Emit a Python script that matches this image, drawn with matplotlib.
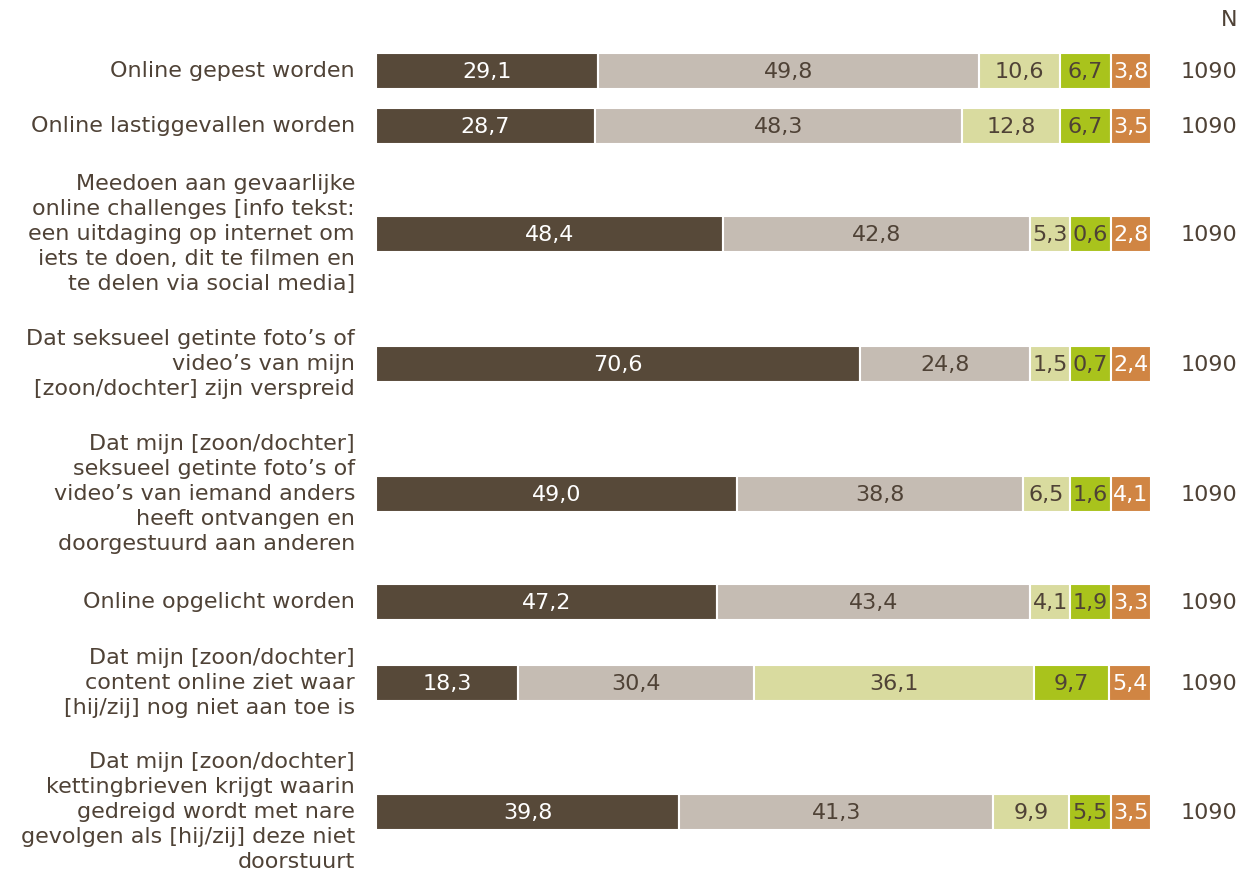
import matplotlib
matplotlib.use("Agg")
import matplotlib.pyplot as plt
import numpy as np

categories = [
    "Online gepest worden",
    "Online lastiggevallen worden",
    "Meedoen aan gevaarlijke\nonline challenges [info tekst:\neen uitdaging op internet om\niets te doen, dit te filmen en\nte delen via social media]",
    "Dat seksueel getinte foto’s of\nvideo’s van mijn\n[zoon/dochter] zijn verspreid",
    "Dat mijn [zoon/dochter]\nseksueel getinte foto’s of\nvideo’s van iemand anders\nheeft ontvangen en\ndoorgestuurd aan anderen",
    "Online opgelicht worden",
    "Dat mijn [zoon/dochter]\ncontent online ziet waar\n[hij/zij] nog niet aan toe is",
    "Dat mijn [zoon/dochter]\nkettingbrieven krijgt waarin\ngedreigd wordt met nare\ngevolgen als [hij/zij] deze niet\ndoorstuurt",
]
seg1 = [29.1, 28.7, 48.4, 70.6, 49.0, 47.2, 18.3, 39.8]
seg2 = [49.8, 48.3, 42.8, 24.8, 38.8, 43.4, 30.4, 41.3]
seg3 = [10.6, 12.8, 5.3, 1.5, 6.5, 4.1, 36.1, 9.9]
seg4 = [6.7, 6.7, 0.6, 0.7, 1.6, 1.9, 9.7, 5.5]
seg5 = [3.8, 3.5, 2.8, 2.4, 4.1, 3.3, 5.4, 3.5]
n_values = [1090, 1090, 1090, 1090, 1090, 1090, 1090, 1090]

colors = ["#574939", "#C5BCB3", "#D9DB9F", "#A9C31C", "#D08543"]
text_colors = ["white", "#4F4236", "#4F4236", "#4F4236", "white"]
label_color = "#4F4236"

# layout (pixel rows)
W, H = 1242, 876
row_y = [71, 126, 234, 364, 494, 602, 683, 812]
bar_h = 36
x0_px, x1_px = 376, 1151
min_w = 5.2  # minimum display width (percent of bar) for small segments


def display_widths(vals, m=min_w):
    vals = np.asarray(vals, dtype=float)
    fixed = np.zeros(len(vals), dtype=bool)
    while True:
        free = ~fixed
        scale = (100 - m * fixed.sum()) / vals[free].sum()
        w = np.where(fixed, m, vals * scale)
        new = fixed | (w < m)
        if (new == fixed).all():
            return w
        fixed = new


fig = plt.figure(figsize=(W / 100, H / 100), dpi=100)
ax = fig.add_axes([x0_px / W, 0, (x1_px - x0_px) / W, 1])
ax.set_xlim(0, 100)
ax.set_ylim(H, 0)
ax.axis("off")

px = 100 / (x1_px - x0_px)
fs = 16
series = [seg1, seg2, seg3, seg4, seg5]
for i, y in enumerate(row_y):
    vals = [s[i] for s in series]
    widths = display_widths(vals)
    left = 0
    for s, (v, w) in enumerate(zip(vals, widths)):
        ax.barh(y, w, left=left, height=bar_h, color=colors[s],
                edgecolor="white", linewidth=1.5)
        ax.text(left + w / 2, y + 1, f"{v:.1f}".replace(".", ","),
                ha="center", va="center", fontsize=fs,
                color=text_colors[s], clip_on=False)
        left += w
    ax.text((355 - x0_px) * px, y, categories[i], ha="right", va="center",
            fontsize=fs, color=label_color, linespacing=1.3, clip_on=False)
    ax.text((1209 - x0_px) * px, y + 1, str(n_values[i]), ha="center", va="center",
            fontsize=fs, color=label_color, clip_on=False)

ax.text((1237 - x0_px) * px, 20, "N", ha="right", va="center",
        fontsize=fs, color=label_color, clip_on=False)

fig.savefig("out.png", dpi=100)
